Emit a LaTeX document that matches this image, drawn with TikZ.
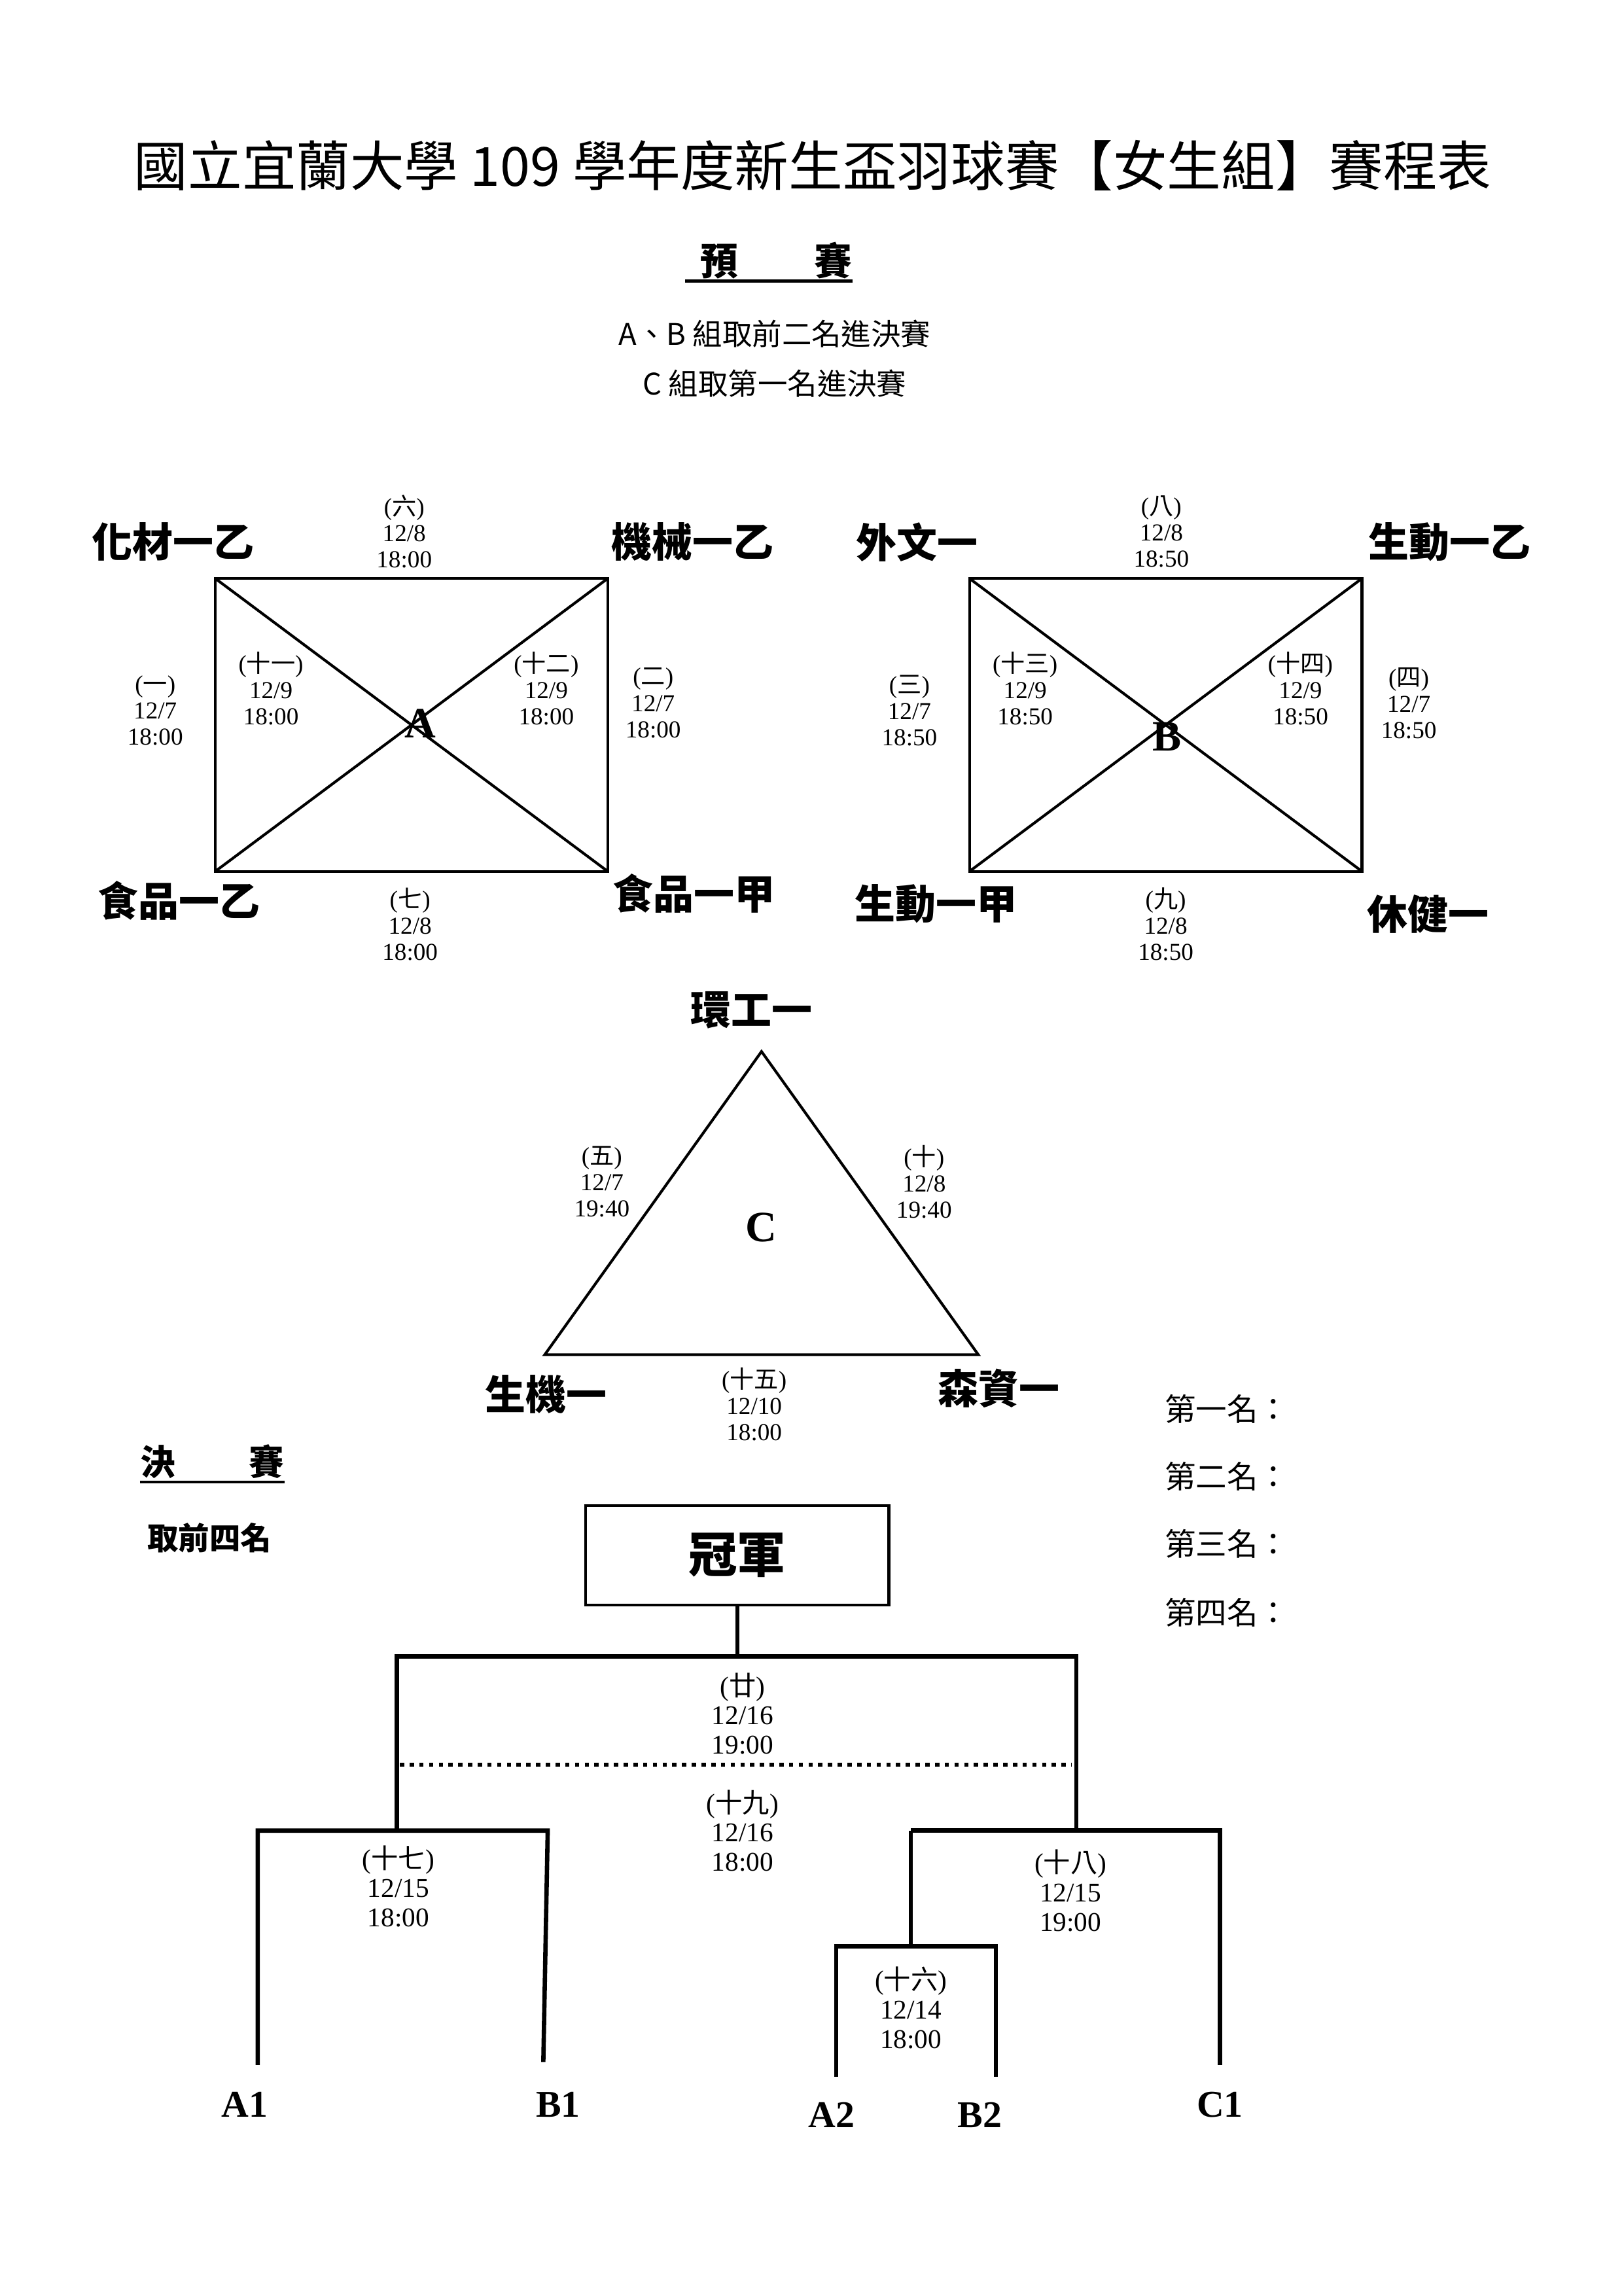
\documentclass[tikz,border=0pt]{standalone}
\usepackage{fontspec}
\setmainfont{Liberation Serif}
\newfontfamily\cjk{Noto Sans CJK TC}
\usetikzlibrary{calc}
\newcommand{\gno}[1]{({\cjk #1})}

\begin{document}
\begin{tikzpicture}[x=0.01904cm, y=-0.01904cm,
  team/.style={inner sep=0pt, font=\cjk\bfseries\fontsize{15}{18}\selectfont},
  game/.style={inner sep=0pt, align=center, font=\fontsize{9}{9.7}\selectfont},
  fgame/.style={inner sep=0pt, align=center, font=\fontsize{10}{10.8}\selectfont},
  grp/.style={inner sep=0pt, font=\bfseries\fontsize{16}{18}\selectfont},
  seed/.style={inner sep=0pt, font=\bfseries\fontsize{14}{16}\selectfont},
  head/.style={inner sep=0pt, font=\cjk\bfseries\fontsize{14}{16}\selectfont},
  rule/.style={inner sep=0pt, font=\cjk\fontsize{11}{13}\selectfont},
  rank/.style={inner sep=0pt, anchor=west, font=\cjk\fontsize{11.5}{13}\selectfont},
  court/.style={line width=1pt},
  bracket/.style={line width=1.6pt}]
\useasboundingbox (0,0) rectangle (1108.5,1567.8);

% title and notes
\node[inner sep=0pt, font=\cjk\fontsize{20}{24}\selectfont] (title) at (555,113)
  {國立宜蘭大學 109 學年度新生盃羽球賽【女生組】賽程表};
\node[head] (prelim) at (530,178) {預\hspace{2em}賽};
\draw[line width=1pt] ($(prelim.south west)+(-10,1)$) -- ($(prelim.south east)+(0,1)$);
\node[rule] (ruleAB) at (529,228) {A、B 組取前二名進決賽};
\node[rule] (ruleC) at (529,262) {C 組取第一名進決賽};

% group A
\coordinate (A-nw) at (147,395);
\coordinate (A-se) at (415,595);
\draw[court] (A-nw) rectangle (A-se);
\draw[court] (A-nw) -- (A-se);
\draw[court] (A-nw |- A-se) -- (A-se |- A-nw);
\node[grp] (grpA) at (287,494) {A};
\node[team] (hc1b) at (118,370) {化材一乙};
\node[team] (me1b) at (473,370) {機械一乙};
\node[team] (fs1b) at (122,615) {食品一乙};
\node[team] (fs1a) at (474,610) {食品一甲};
\node[game] (g6) at (276,363) {\gno{六}\\12/8\\18:00};
\node[game] (g1) at (106,485) {\gno{一}\\12/7\\18:00};
\node[game] (g11) at (185,470) {\gno{十一}\\12/9\\18:00};
\node[game] (g12) at (373,470) {\gno{十二}\\12/9\\18:00};
\node[game] (g2) at (446,480) {\gno{二}\\12/7\\18:00};
\node[game] (g7) at (280,631) {\gno{七}\\12/8\\18:00};

% group B
\coordinate (B-nw) at (662,395);
\coordinate (B-se) at (930,595);
\draw[court] (B-nw) rectangle (B-se);
\draw[court] (B-nw) -- (B-se);
\draw[court] (B-nw |- B-se) -- (B-se |- B-nw);
\node[grp] (grpB) at (797,503) {B};
\node[team] (fl1) at (626,370) {外文一};
\node[team] (bm1b) at (990,370) {生動一乙};
\node[team] (bm1a) at (639,617) {生動一甲};
\node[team] (rh1) at (975,624) {休健一};
\node[game] (g8) at (793,363) {\gno{八}\\12/8\\18:50};
\node[game] (g3) at (621,485) {\gno{三}\\12/7\\18:50};
\node[game] (g13) at (700,470) {\gno{十三}\\12/9\\18:50};
\node[game] (g14) at (888,470) {\gno{十四}\\12/9\\18:50};
\node[game] (g4) at (962,480) {\gno{四}\\12/7\\18:50};
\node[game] (g9) at (796,631) {\gno{九}\\12/8\\18:50};

% group C
\coordinate (C-top) at (520,718);
\coordinate (C-left) at (372,925);
\coordinate (C-right) at (668,925);
\draw[court] (C-top) -- (C-left) -- (C-right) -- cycle;
\node[grp] (grpC) at (520,838) {C};
\node[team] (ee1) at (513,690) {環工一};
\node[team] (bi1) at (373,952) {生機一};
\node[team] (fr1) at (682,948) {森資一};
\node[game] (g5) at (411,807) {\gno{五}\\12/7\\19:40};
\node[game] (g10) at (631,807) {\gno{十}\\12/8\\19:40};
\node[game] (g15) at (515,959) {\gno{十五}\\12/10\\18:00};

% ranking
\foreach \rk/\yy [count=\i] in {一/962, 二/1008, 三/1054, 四/1101}
  \node[rank] (rank\i) at (795,\yy) {第\rk 名：};

% finals
\node[head, font=\cjk\bfseries\fontsize{13}{15}\selectfont] (final) at (145,998) {決\hspace{2.1em}賽};
\draw[line width=1pt] ($(final.south west)+(0,2)$) -- ($(final.south east)+(0,2)$);
\node[inner sep=0pt, font=\cjk\bfseries\fontsize{11.5}{13}\selectfont] (top4) at (143,1050) {取前四名};
\node[draw, line width=1pt, minimum width=3.94cm, minimum height=1.29cm,
  font=\cjk\bfseries\fontsize{18}{20}\selectfont] (champ) at (503.5,1062) {冠軍};

\coordinate (f-l) at (271,1131);
\coordinate (f-r) at (735,1131);
\coordinate (m17-l) at (176,1250);
\coordinate (m17-r) at (374,1250);
\coordinate (m18-l) at (622,1250);
\coordinate (m18-r) at (833,1250);
\coordinate (m16-l) at (571,1329);
\coordinate (m16-r) at (680,1329);
\coordinate (A1-end) at (176,1410);
\coordinate (B1-end) at (371,1408);
\coordinate (A2-end) at (571,1418);
\coordinate (B2-end) at (680,1418);
\coordinate (C1-end) at (833,1410);

\draw[bracket] (champ.south) -- (champ.south |- f-l);
\draw[bracket] (f-l |- m17-l) -- (f-l) -- (f-r) -- (f-r |- m18-l);
\draw[bracket] (A1-end) -- (m17-l) -- (m17-r) -- (B1-end);
\draw[bracket] (m16-l |- m18-l) ++(51,0) coordinate (m18-in) -- (m18-in |- m16-l);
\draw[bracket] (m18-l) -- (m18-r) -- (C1-end);
\draw[bracket] (A2-end) -- (m16-l) -- (m16-r) -- (B2-end);
\draw[line width=1.6pt, dotted] ($(f-l)+(2,74)$) -- ($(f-r)+(-3,74)$);

\node[fgame] (g20) at (507,1170) {\gno{廿}\\12/16\\19:00};
\node[fgame] (g19) at (507,1250) {\gno{十九}\\12/16\\18:00};
\node[fgame] (g17) at (272,1288) {\gno{十七}\\12/15\\18:00};
\node[fgame] (g18) at (731,1291) {\gno{十八}\\12/15\\19:00};
\node[fgame] (g16) at (622,1371) {\gno{十六}\\12/14\\18:00};

\node[seed] (A1) at (167,1437) {A1};
\node[seed] (B1) at (381,1437) {B1};
\node[seed] (A2) at (568,1444) {A2};
\node[seed] (B2) at (669,1444) {B2};
\node[seed] (C1) at (833,1437) {C1};
\end{tikzpicture}
\end{document}
